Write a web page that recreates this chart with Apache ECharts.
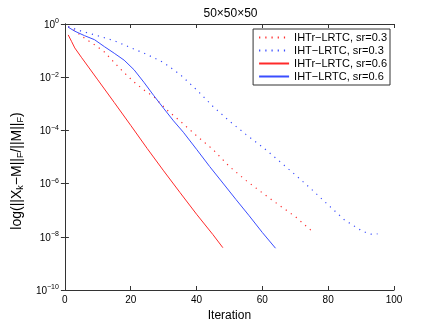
<!DOCTYPE html>
<html>
<head>
<meta charset="utf-8">
<script src="https://cdn.jsdelivr.net/npm/echarts@6/dist/echarts.min.js"></script>
<style>
html,body{margin:0;padding:0;background:#fff;}
#c{width:436px;height:327px;}
</style>
</head>
<body>
<div id="c"></div>
<script>
// Series data: [iteration, relative error]
var iterRedDot  = [1, 3, 5, 7, 9, 12, 15, 18, 21, 24, 27, 31, 35, 40, 45, 50, 55, 60, 65, 70, 75];
var valRedDot   = [7.94e-1, 5.62e-1, 3.55e-1, 2.40e-1, 1.66e-1, 8.91e-2, 3.55e-2, 1.48e-2, 6.61e-3, 3.31e-3, 1.86e-3, 5.89e-4, 2.24e-4, 6.31e-5, 1.91e-5, 4.37e-6, 1.32e-6, 4.47e-7, 1.58e-7, 5.75e-8, 1.66e-8];

var iterBlueDot = [1, 5, 10, 15, 20, 25, 30, 35, 40, 45, 50, 55, 60, 65, 70, 75, 80, 85, 90, 92, 93, 95];
var valBlueDot  = [7.94e-1, 5.37e-1, 3.63e-1, 2.34e-1, 1.29e-1, 7.08e-2, 3.55e-2, 1.26e-2, 3.39e-3, 7.94e-4, 2.24e-4, 7.08e-5, 2.40e-5, 7.24e-6, 2.14e-6, 6.03e-7, 1.58e-7, 4.27e-8, 1.74e-8, 1.35e-8, 1.26e-8, 1.29e-8];

var iterRedSolid = [1, 2, 3, 5, 10, 15, 20, 25, 30, 35, 40, 45, 48];
var valRedSolid  = [3.89e-1, 2.24e-1, 1.26e-1, 5.62e-2, 7.94e-3, 1.12e-3, 1.55e-4, 2.09e-5, 3.02e-6, 4.57e-7, 7.08e-8, 1.20e-8, 3.89e-9];

var iterBlueSolid = [1, 3, 6, 9, 12, 15, 18, 21, 24, 27, 30, 33, 36, 40, 44, 48, 52, 56, 60, 64];
var valBlueSolid  = [7.59e-1, 5.37e-1, 3.63e-1, 2.57e-1, 1.41e-1, 7.94e-2, 4.37e-2, 1.91e-2, 6.46e-3, 2.04e-3, 6.76e-4, 2.29e-4, 8.51e-5, 1.95e-5, 4.37e-6, 1.05e-6, 2.51e-7, 6.17e-8, 1.45e-8, 3.72e-9];

var seriesNames = ['IHTr\u2212LRTC, sr=0.3', 'IHT\u2212LRTC, sr=0.3', 'IHTr\u2212LRTC, sr=0.6', 'IHT\u2212LRTC, sr=0.6'];
var xTicks = [0, 20, 40, 60, 80, 100];
var titleText = '50\u00d750\u00d750';

function pairs(xs, ys){ return xs.map(function(x,i){ return [x, ys[i]]; }); }

var FONT = 'Liberation Sans, Arial, sans-serif';
var AX = '#333';
var RED = '#ff2a2a';
var BLUE = '#3a4dff';

var chart = echarts.init(document.getElementById('c'), null, {renderer:'canvas'});
chart.setOption({
  animation: false,
  backgroundColor: '#fff',
  title: {
    text: titleText, left: 225.5, top: 3, textAlign: 'center',
    textStyle: {fontFamily: FONT, fontSize: 12, fontWeight: 'normal', color: '#000'}
  },
  grid: {left: 57, right: 42, top: 24, bottom: 37, containLabel: false},
  legend: {
    orient: 'vertical', right: 46, top: 29,
    backgroundColor: '#fff', borderColor: AX, borderWidth: 1,
    padding: [3, 3, 3, 5], itemGap: 2, itemWidth: 30, itemHeight: 11,
    itemStyle: {opacity: 0},
    textStyle: {fontFamily: FONT, fontSize: 11, color: '#000'},
    data: seriesNames
  },
  xAxis: [{
    type: 'value', min: xTicks[0], max: xTicks[xTicks.length-1], interval: 20,
    name: 'Iteration', nameLocation: 'middle', nameGap: 20,
    nameTextStyle: {fontFamily: FONT, fontSize: 12, color: '#000'},
    axisLine: {lineStyle: {color: AX, width: 1}},
    axisTick: {inside: true, length: 4, lineStyle: {color: AX}},
    axisLabel: {fontFamily: FONT, fontSize: 10, color: '#000', margin: 5},
    splitLine: {show: false}
  }, {
    type: 'value', position: 'top', min: 0, max: 100, interval: 20,
    axisLine: {lineStyle: {color: AX, width: 1}},
    axisTick: {inside: true, length: 4, lineStyle: {color: AX}},
    axisLabel: {show: false}, splitLine: {show: false}
  }],
  yAxis: [{
    type: 'log', logBase: 10, min: 1e-10, max: 1, interval: 2,
    name: '{n|log(||X}{sub|k}{n|\u2212M||}{sub|F}{n|/||M||}{sub|F}{n|)}',
    nameLocation: 'middle', nameGap: 37,
    nameTextStyle: {
      fontFamily: FONT, fontSize: 14, color: '#000', padding: [0, 28, 0, 0],
      rich: {
        n: {fontFamily: FONT, fontSize: 14, color: '#000', lineHeight: 15, verticalAlign: 'top'},
        sub: {fontFamily: FONT, fontSize: 9, color: '#000', lineHeight: 10, padding: [8,0,0,0], verticalAlign: 'bottom'}
      }
    },
    axisLine: {lineStyle: {color: AX, width: 1}},
    axisTick: {inside: true, length: 4, lineStyle: {color: AX}},
    axisLabel: {
      margin: 6,
      formatter: function(v){
        var e = Math.round(Math.log10(v));
        return '{b|10}{s|' + (e < 0 ? '\u2212' + (-e) : e) + '}';
      },
      rich: {
        b: {fontFamily: FONT, fontSize: 10, color: '#000', lineHeight: 12, verticalAlign: 'bottom'},
        s: {fontFamily: FONT, fontSize: 7, color: '#000', lineHeight: 8, padding: [0,0,5,0], verticalAlign: 'top'}
      }
    },
    splitLine: {show: false}
  }, {
    type: 'log', logBase: 10, min: 1e-10, max: 1, interval: 2, position: 'right',
    axisLine: {lineStyle: {color: AX, width: 1}},
    axisTick: {inside: true, length: 4, lineStyle: {color: AX}},
    axisLabel: {show: false}, splitLine: {show: false}
  }],
  series: [
    {name: seriesNames[0], type: 'line', symbol: 'none', data: pairs(iterRedDot, valRedDot),
     lineStyle: {color: RED, width: 1.2, type: [1.2, 5]}, itemStyle: {color: RED}},
    {name: seriesNames[1], type: 'line', symbol: 'none', data: pairs(iterBlueDot, valBlueDot),
     lineStyle: {color: BLUE, width: 1.2, type: [1.2, 5]}, itemStyle: {color: BLUE}},
    {name: seriesNames[2], type: 'line', symbol: 'none', data: pairs(iterRedSolid, valRedSolid),
     lineStyle: {color: RED, width: 1}, itemStyle: {color: RED}},
    {name: seriesNames[3], type: 'line', symbol: 'none', data: pairs(iterBlueSolid, valBlueSolid),
     lineStyle: {color: BLUE, width: 1}, itemStyle: {color: BLUE}}
  ]
});
</script>
</body>
</html>
